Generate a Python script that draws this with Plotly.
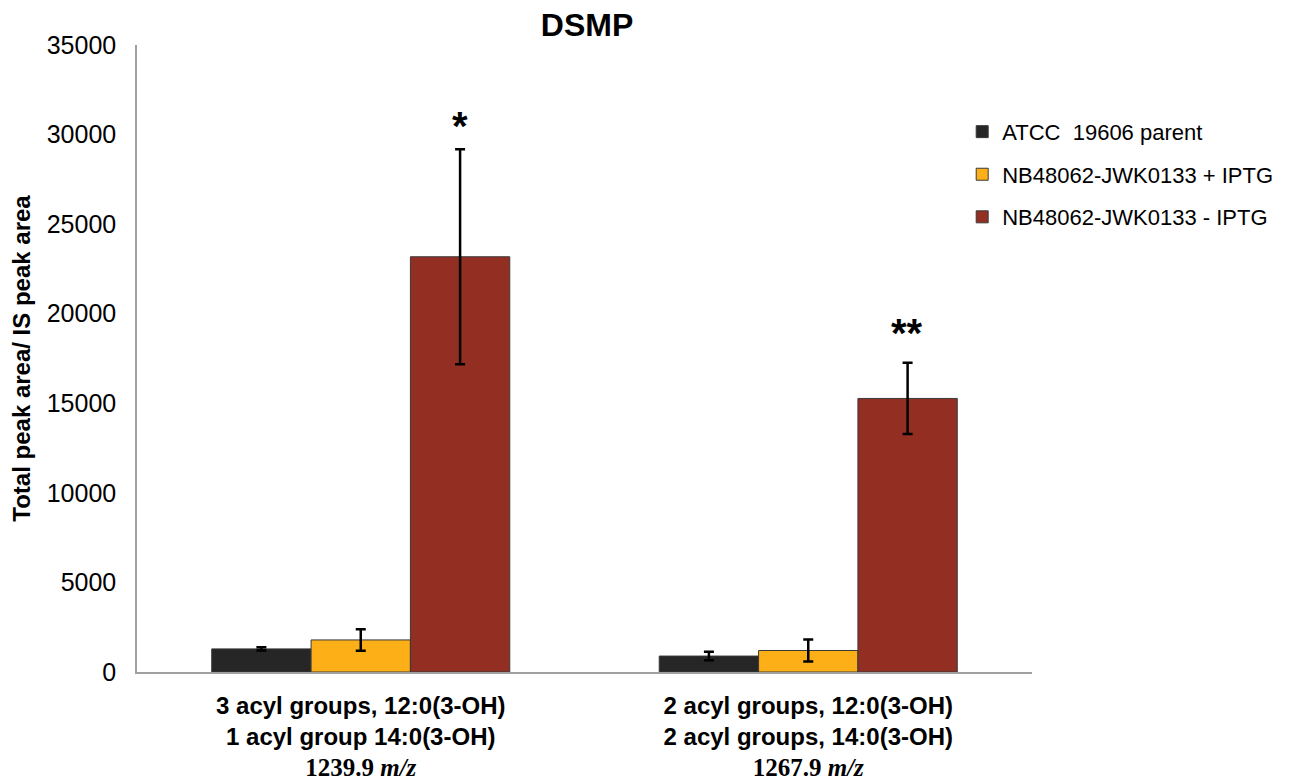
import plotly.graph_objects as go

categories = [
    "<b>3 acyl groups, 12:0(3-OH)</b><br><b>1 acyl group 14:0(3-OH)</b><br><span style='font-family:Liberation Serif;font-size:25px'><b>1239.9 <i>m/z</i></b></span>",
    "<b>2 acyl groups, 12:0(3-OH)</b><br><b>2 acyl groups, 14:0(3-OH)</b><br><span style='font-family:Liberation Serif;font-size:25px'><b>1267.9 <i>m/z</i></b></span>",
]
series_names = ["ATCC  19606 parent", "NB48062-JWK0133 + IPTG", "NB48062-JWK0133 - IPTG"]
parent_vals = [1290, 890]
parent_err = [90, 240]
plus_vals = [1790, 1200]
plus_err = [600, 620]
minus_vals = [23180, 15270]
minus_err = [6000, 1990]
sig_labels = ["*", "**"]
colors = ["#262626", "#FCAF17", "#922F22"]

fig = go.Figure()
for name, vals, errs, col, grp in zip(series_names, [parent_vals, plus_vals, minus_vals],
                                      [parent_err, plus_err, minus_err], colors, ["a", "b", "c"]):
    fig.add_trace(go.Bar(
        name=name, x=categories, y=vals, marker=dict(color=col, line=dict(color="#3a3a3a", width=1)),
        error_y=dict(type="data", array=errs, visible=True, color="black", thickness=2.5, width=5),
        legendgroup=grp,
    ))

for cat, val, err, lab, ys in zip(categories, minus_vals, minus_err, sig_labels, [-1, 6]):
    fig.add_annotation(x=cat, y=val + err, text="<b>" + lab + "</b>", showarrow=False,
                       yanchor="bottom", yshift=ys, xshift=99,
                       font=dict(family="Liberation Sans, Arial", size=40, color="black"))

fig.update_layout(
    width=1307, height=776,
    paper_bgcolor="white", plot_bgcolor="white",
    margin=dict(l=129, r=283, t=37, b=112),
    barmode="group", bargap=0.334, bargroupgap=0,
    font=dict(family="Liberation Sans, Arial", size=19, color="black"),
    title=dict(text="<b>DSMP</b>", x=0.443, xanchor="center", y=0.978, yanchor="middle",
               font=dict(size=32, color="black")),
    legend=dict(x=0.922, y=0.895, xanchor="left", yanchor="top", font=dict(size=22),
                tracegroupgap=11, bgcolor="rgba(0,0,0,0)"),
    showlegend=True,
)
fig.update_xaxes(showline=True, linecolor="#a0a0a0", linewidth=1.5, showgrid=False, ticks="",
                 tickfont=dict(size=24), range=[-0.5, 1.5], automargin=False, ticklabelstandoff=11)
fig.update_yaxes(range=[0, 35000], dtick=5000, tickformat="d", showline=True, linecolor="#a0a0a0",
                 linewidth=1.5, showgrid=False, ticks="", tickfont=dict(size=25), zeroline=False,
                 automargin=False, ticklabelstandoff=14,
                 title=dict(text="<b>Total peak area/ IS peak area</b>", font=dict(size=24), standoff=10))
fig.write_html("out.html")
